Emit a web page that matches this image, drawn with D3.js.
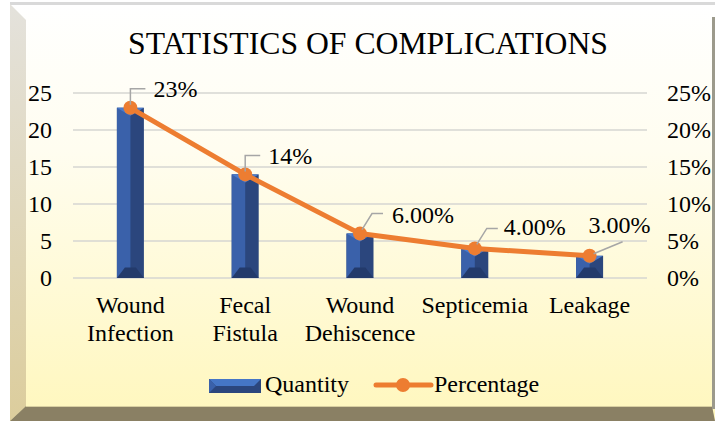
<script src="https://cdn.jsdelivr.net/npm/d3@7"></script>
<style>
  body { margin: 0; background: #fff; }
  text { font-family: "Liberation Serif", "Times New Roman", serif; fill: #000; }
</style>
<body>
<svg id="vis"></svg>
<script>
  var W = 715, H = 421

  // data
  var categories = [["Wound", "Infection"], ["Fecal", "Fistula"], ["Wound", "Dehiscence"], ["Septicemia"], ["Leakage"]]
  var quantity = [23, 14, 6, 4, 3]
  var percentage = [0.23, 0.14, 0.06, 0.04, 0.03]
  var pctLabels = ["23%", "14%", "6.00%", "4.00%", "3.00%"]
  var leftTicks = [0, 5, 10, 15, 20, 25]
  var rightTicks = [0, 0.05, 0.10, 0.15, 0.20, 0.25]

  // leader line / label placement relative to each marker
  var leaders = [
    { pts: [[0, -3], [0, -19], [15, -19]], tx: 23, ty: -11 },
    { pts: [[0, -3], [0, -19], [15, -19]], tx: 23, ty: -10 },
    { pts: [[2, -4], [12, -20], [23, -20]], tx: 32, ty: -11 },
    { pts: [[2, -4], [12, -20], [23, -20]], tx: 29, ty: -13 },
    { pts: [[4, -2], [33, -14]], tx: -1, ty: -23 }
  ]

  var FS = 24

  var svg = d3.select('#vis').attr('width', W).attr('height', H)
  var defs = svg.append('defs')

  var bg = defs.append('linearGradient').attr('id', 'bg').attr('x1', 0).attr('y1', 0).attr('x2', 0).attr('y2', 1)
  bg.append('stop').attr('offset', 0).attr('stop-color', '#ffffff')
  bg.append('stop').attr('offset', 0.35).attr('stop-color', '#fffdf0')
  bg.append('stop').attr('offset', 1).attr('stop-color', '#fff7bd')

  var lb = defs.append('linearGradient').attr('id', 'lb').attr('x1', 0).attr('y1', 0).attr('x2', 0).attr('y2', 1)
  lb.append('stop').attr('offset', 0).attr('stop-color', '#e4e2dc')
  lb.append('stop').attr('offset', 1).attr('stop-color', '#dccd9c')

  // frame
  svg.append('rect').attr('x', 10).attr('y', 3).attr('width', 705).attr('height', 418).attr('fill', 'url(#bg)')
  svg.append('rect').attr('x', 10).attr('y', 2).attr('width', 705).attr('height', 3).attr('fill', '#d9d9d9')
  svg.append('polygon').attr('points', '10,4 26,20 26,406 10,421').attr('fill', 'url(#lb)')
  svg.append('polygon').attr('points', '10,421 26,406 712,406 715,421').attr('fill', '#8a8064')
  svg.append('line').attr('x1', 26).attr('x2', 712).attr('y1', 406.5).attr('y2', 406.5).attr('stroke', '#d8cfa0').attr('stroke-width', 1)
  svg.append('rect').attr('x', 712).attr('y', 17).attr('width', 3).attr('height', 392).attr('fill', '#9c9a8c')

  // title
  svg.append('text').attr('x', 128).attr('y', 54).attr('font-size', 32)
    .attr('textLength', 480).attr('lengthAdjust', 'spacingAndGlyphs')
    .text('STATISTICS OF COMPLICATIONS')

  var x = d3.scaleBand().domain(d3.range(categories.length)).range([73, 647])
  var y = d3.scaleLinear().domain([0, 25]).range([278, 93])
  var y2 = d3.scaleLinear().domain([0, 0.25]).range([278, 93])

  // gridlines
  svg.append('g').selectAll('line').data(leftTicks).join('line')
    .attr('x1', 73).attr('x2', 647)
    .attr('y1', d => y(d)).attr('y2', d => y(d))
    .attr('stroke', '#d6d6d2').attr('stroke-width', 1.5)

  // axes (labels only)
  svg.append('g').attr('transform', 'translate(58,0)')
    .call(d3.axisLeft(y).tickValues(leftTicks).tickSize(0).tickPadding(6))
  svg.append('g').attr('transform', 'translate(661,0)')
    .call(d3.axisRight(y2).tickValues(rightTicks).tickSize(0).tickPadding(6).tickFormat(d3.format('.0%')))
  svg.selectAll('.domain').remove()
  svg.selectAll('.tick text').attr('font-size', FS).attr('font-family', '"Liberation Serif", serif').attr('fill', '#000').attr('dy', '0.33em')

  // category labels
  var cats = svg.append('g')
  categories.forEach(function (lines, i) {
    var t = cats.append('text').attr('text-anchor', 'middle').attr('font-size', FS)
    lines.forEach(function (s, j) {
      t.append('tspan').attr('x', x(i) + x.bandwidth() / 2).attr('y', 313 + j * 28).text(s)
    })
  })

  // bars with a bevelled look
  var bw = 27
  function drawBar(g, cx, yt, yb) {
    var x0 = cx - bw / 2, x1 = cx + bw / 2
    g.append('rect').attr('x', x0).attr('y', yt).attr('width', bw).attr('height', yb - yt).attr('fill', '#2b467d')
    g.append('rect').attr('x', x0).attr('y', yt).attr('width', bw / 2).attr('height', yb - yt).attr('fill', '#3a61aa')
    var b = Math.min(8, (yb - yt) / 2)
    g.append('polygon').attr('points', [[x0, yt], [x1, yt], [cx, yt + b]].join(' ')).attr('fill', '#4b7ccd')
    g.append('polygon').attr('points', [[x0, yb], [x1, yb], [x1 - b, yb - b * 1.3], [x0 + b, yb - b * 1.3]].join(' ')).attr('fill', '#233a6b')
  }
  var bars = svg.append('g')
  quantity.forEach(function (q, i) {
    drawBar(bars, x(i) + x.bandwidth() / 2, y(q), y(0))
  })

  // percentage line
  var pts = percentage.map((p, i) => [x(i) + x.bandwidth() / 2, y2(p)])
  svg.append('path').attr('d', d3.line()(pts)).attr('fill', 'none')
    .attr('stroke', '#ed7d31').attr('stroke-width', 5).attr('stroke-linejoin', 'round')
  svg.append('g').selectAll('circle').data(pts).join('circle')
    .attr('cx', d => d[0]).attr('cy', d => d[1]).attr('r', 7).attr('fill', '#ed7d31')

  // data labels with leader lines
  pts.forEach(function (p, i) {
    var L = leaders[i]
    svg.append('polyline')
      .attr('points', L.pts.map(d => [p[0] + d[0], p[1] + d[1]]).join(' '))
      .attr('fill', 'none').attr('stroke', '#a6a6a6').attr('stroke-width', 1.5)
    svg.append('text').attr('x', p[0] + L.tx).attr('y', p[1] + L.ty).attr('font-size', FS).text(pctLabels[i])
  })

  // legend
  var lg = svg.append('g')
  lg.append('rect').attr('x', 209).attr('y', 379).attr('width', 52).attr('height', 14).attr('fill', '#2b467d')
  lg.append('polygon').attr('points', '209,379 261,379 254,386 216,386').attr('fill', '#4576c6')
  lg.append('polygon').attr('points', '209,379 216,386 209,393').attr('fill', '#3a61aa')
  lg.append('text').attr('x', 265).attr('y', 392).attr('font-size', FS).text('Quantity')
  lg.append('line').attr('x1', 376).attr('x2', 431).attr('y1', 385).attr('y2', 385)
    .attr('stroke', '#ed7d31').attr('stroke-width', 5).attr('stroke-linecap', 'round')
  lg.append('circle').attr('cx', 403).attr('cy', 385).attr('r', 7).attr('fill', '#ed7d31')
  lg.append('text').attr('x', 434).attr('y', 392).attr('font-size', FS).text('Percentage')
</script>
</body>
